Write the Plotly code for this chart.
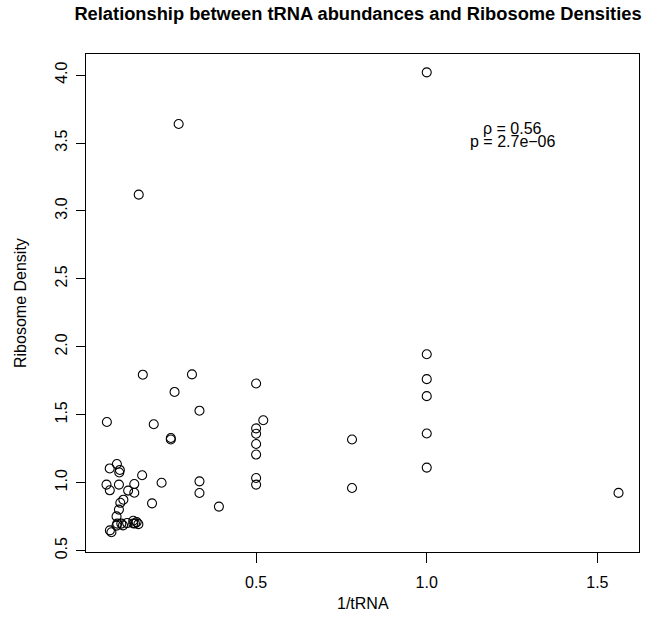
import plotly.graph_objects as go

# 1/tRNA values (x) and ribosome densities (y)
inv_trna = [1.0, 0.273, 0.156, 1.0, 1.0, 1.0, 1.0, 1.0, 1.562,
            0.312, 0.168, 0.5, 0.334, 0.521, 0.5, 0.5, 0.5, 0.5, 0.781,
            0.334, 0.334, 0.5, 0.5, 0.781, 0.391,
            0.261, 0.0627, 0.2, 0.25, 0.25,
            0.092, 0.071, 0.1007, 0.099, 0.166, 0.223,
            0.0615, 0.0712, 0.098, 0.143, 0.125, 0.143,
            0.111, 0.102, 0.195, 0.098, 0.091,
            0.093, 0.105, 0.110, 0.091, 0.122,
            0.14, 0.145, 0.15, 0.155, 0.14,
            0.0715, 0.076]
ribo_density = [4.02, 3.64, 3.12, 1.945, 1.762, 1.637, 1.362, 1.111, 0.925,
                1.797, 1.795, 1.73, 1.53, 1.46, 1.40, 1.36, 1.285, 1.207, 1.318,
                1.01, 0.924, 1.035, 0.986, 0.961, 0.824,
                1.668, 1.447, 1.43, 1.329, 1.318,
                1.138, 1.105, 1.094, 1.075, 1.055, 1.0,
                0.986, 0.944, 0.986, 0.99, 0.942, 0.926,
                0.875, 0.852, 0.848, 0.802, 0.752,
                0.699, 0.699, 0.686, 0.684, 0.703,
                0.72, 0.70, 0.71, 0.695, 0.70,
                0.649, 0.635]

x_ticks = [0.5, 1.0, 1.5]
x_tick_text = ["0.5", "1.0", "1.5"]
y_ticks = [0.5, 1.0, 1.5, 2.0, 2.5, 3.0, 3.5, 4.0]
y_tick_text = ["0.5", "1.0", "1.5", "2.0", "2.5", "3.0", "3.5", "4.0"]

title_text = "Relationship between tRNA abundances and Ribosome Densities"
x_label = "1/tRNA"
y_label = "Ribosome Density"
rho_text = "ρ = 0.56"
p_text = "p = 2.7e−06"

FONT = "Liberation Sans, Arial, Helvetica, sans-serif"

fig = go.Figure()
fig.add_trace(go.Scatter(
    x=inv_trna, y=ribo_density, mode="markers",
    marker=dict(symbol="circle-open", size=9, color="black",
                line=dict(width=1.1, color="black")),
    showlegend=False, hoverinfo="x+y"))

fig.add_annotation(x=1.252, y=3.606, xref="x", yref="y", text=rho_text,
                   showarrow=False, font=dict(family=FONT, size=16, color="black"),
                   xanchor="center", yanchor="middle")
fig.add_annotation(x=1.252, y=3.514, xref="x", yref="y", text=p_text,
                   showarrow=False, font=dict(family=FONT, size=16, color="black"),
                   xanchor="center", yanchor="middle")

# axis titles
fig.add_annotation(x=0.5, y=-(603 - 552) / 498, xref="paper", yref="paper",
                   text=x_label, showarrow=False,
                   font=dict(family=FONT, size=16, color="black"),
                   xanchor="center", yanchor="middle")
fig.add_annotation(x=-(86 - 20) / 553, y=0.5, xref="paper", yref="paper",
                   text=y_label, showarrow=False, textangle=-90,
                   font=dict(family=FONT, size=16, color="black"),
                   xanchor="center", yanchor="middle")

fig.update_layout(
    width=654, height=625,
    margin=dict(l=86, r=15, t=54, b=73),
    paper_bgcolor="white", plot_bgcolor="white",
    font=dict(family=FONT, size=16, color="black"),
    title=dict(text="<b>" + title_text + "</b>", x=358 / 654,
               xanchor="center", y=1 - 14 / 625, yanchor="middle",
               xref="container", yref="container",
               font=dict(family=FONT, size=18.3, color="black")),
    xaxis=dict(range=[0.0015, 1.622], tickvals=x_ticks, ticktext=x_tick_text,
               ticks="outside", ticklen=10, tickwidth=1, tickcolor="black",
               showline=True, linecolor="black", linewidth=1, mirror=True,
               showgrid=False, zeroline=False, ticklabelstandoff=6,
               tickfont=dict(family=FONT, size=16, color="black")),
    yaxis=dict(range=[0.49, 4.155], tickvals=y_ticks, ticktext=y_tick_text,
               ticks="outside", ticklen=9, tickwidth=1, tickcolor="black",
               tickangle=-90, ticklabelstandoff=3,
               showline=True, linecolor="black", linewidth=1, mirror=True,
               showgrid=False, zeroline=False,
               tickfont=dict(family=FONT, size=16, color="black")),
)

fig.write_html("out.html")
